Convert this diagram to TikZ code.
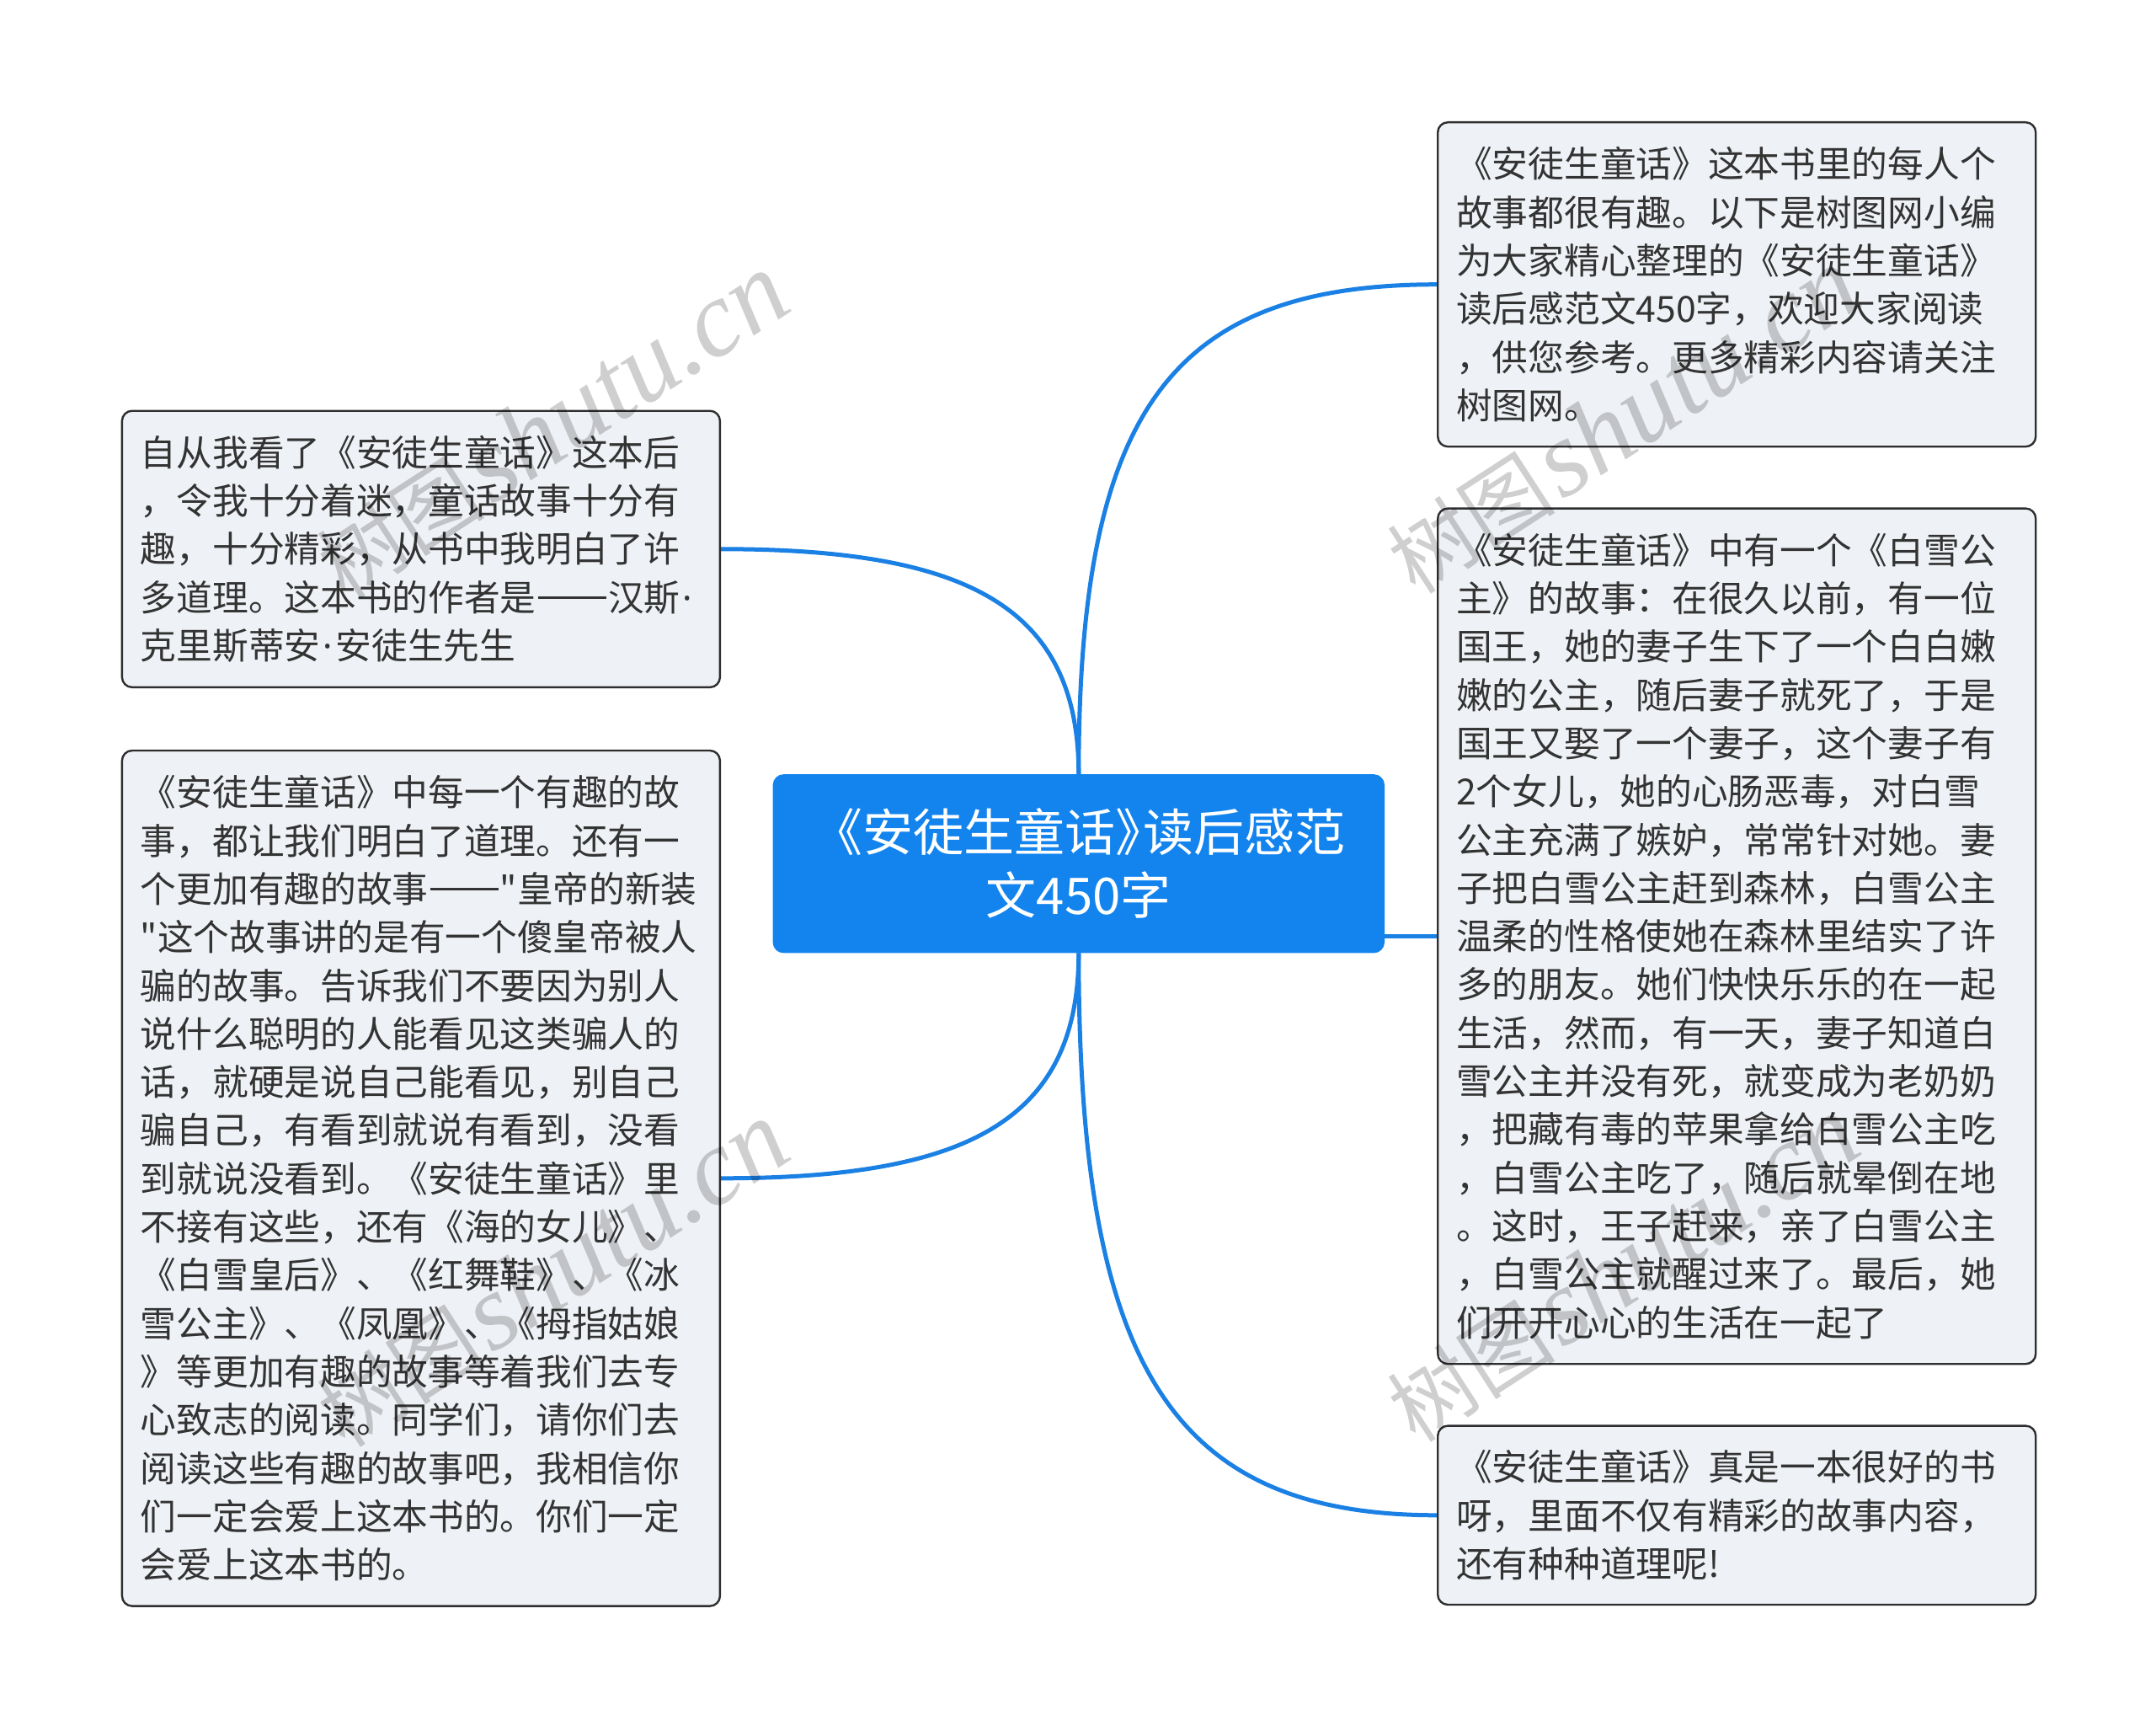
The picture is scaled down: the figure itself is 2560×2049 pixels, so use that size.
\documentclass[tikz,border=0pt]{standalone}
\usepackage{fontspec}
\usetikzlibrary{backgrounds}
\newfontfamily\cjk{Noto Sans CJK SC}
\newfontfamily\wmlat{Liberation Serif}
\newfontfamily\latdot{Noto Sans}
\newcommand{\mdot}{{\latdot\kern0.08em·\kern0.08em}}
\newcommand{\ddash}{\kern0.05em\rule[0.34em]{1.9em}{0.06em}\kern0.05em}
\definecolor{cblue}{HTML}{1384EE}
\definecolor{lblue}{HTML}{1A80E4}
\definecolor{boxfill}{HTML}{EEF1F5}
\definecolor{boxdraw}{HTML}{2E2E2E}
\definecolor{txt}{HTML}{333333}
\tikzset{
  leaf/.style={draw=boxdraw, fill=boxfill, line width=1.2pt, rounded corners=6pt,
    anchor=north west, align=left, text width=333pt, inner xsep=11pt, inner ysep=0pt,
    minimum width=355pt, text=txt,
    font=\cjk\fontsize{21.35pt}{28.65pt}\selectfont},
  root/.style={fill=cblue, draw=cblue, line width=0.8pt, rounded corners=6pt,
    anchor=north west, align=center, text width=340pt, inner sep=0pt,
    minimum width=362.4pt, minimum height=105.3pt, text=white,
    font=\cjk\fontsize{30pt}{37.5pt}\selectfont},
  conn/.style={draw=lblue, line width=2.5pt},
  wmark/.style={rotate=33, text=black, opacity=0.19, inner sep=0pt}
}
\begin{document}
\begin{tikzpicture}[x=0.5pt, y=-0.5pt]
\useasboundingbox (0,0) rectangle (2560,2049);

\node[root] (c) at (917.6,919.2) {\mbox{《安徒生童话》\kern-0.45em读后感范}\\文450字};

\node[leaf, minimum height=192.5pt] (tr) at (1706,144) {%
《安徒生童话》这本书里的每人个\\
故事都很有趣。以下是树图网小编\\
为大家精心整理的《安徒生童话》\\
读后感范文450字，欢迎大家阅读\\
，供您参考。更多精彩内容请关注\\
树图网。};

\node[leaf, minimum height=507.8pt] (rm) at (1706,602.4) {%
《安徒生童话》中有一个《白雪公\\
主》的故事：在很久以前，有一位\\
国王，她的妻子生下了一个白白嫩\\
嫩的公主，随后妻子就死了，于是\\
国王又娶了一个妻子，这个妻子有\\
2个女儿，她的心肠恶毒，对白雪\\
公主充满了嫉妒，常常针对她。妻\\
子把白雪公主赶到森林，白雪公主\\
温柔的性格使她在森林里结实了许\\
多的朋友。她们快快乐乐的在一起\\
生活，然而，有一天，妻子知道白\\
雪公主并没有死，就变成为老奶奶\\
，把藏有毒的苹果拿给白雪公主吃\\
，白雪公主吃了，随后就晕倒在地\\
。这时，王子赶来，亲了白雪公主\\
，白雪公主就醒过来了。最后，她\\
们开开心心的生活在一起了};

\node[leaf, minimum height=106.2pt] (rb) at (1706,1691.4) {%
《安徒生童话》真是一本很好的书\\
呀，里面不仅有精彩的故事内容，\\
还有种种道理呢!};

\node[leaf, minimum height=164.1pt] (lt) at (143.7,486.5) {%
自从我看了《安徒生童话》这本后\\
，令我十分着迷，童话故事十分有\\
趣，十分精彩，从书中我明白了许\\
\mbox{多道理。这本书的作者是\ddash 汉斯\mdot}\\
克里斯蒂安\mdot 安徒生先生};

\node[leaf, minimum height=507.8pt] (lb) at (143.7,889.8) {%
《安徒生童话》中每一个有趣的故\\
事，都让我们明白了道理。还有一\\
\mbox{个更加有趣的故事\ddash"皇帝的新装}\\
\mbox{"这个故事讲的是有一个傻皇帝被人}\\
骗的故事。告诉我们不要因为别人\\
说什么聪明的人能看见这类骗人的\\
话，就硬是说自己能看见，别自己\\
骗自己，有看到就说有看到，没看\\
到就说没看到。《安徒生童话》里\\
不接有这些，还有《海的女儿》、\\
《白雪皇后》、《红舞鞋》、《冰\\
雪公主》、《凤凰》、《拇指姑娘\\
》等更加有趣的故事等着我们去专\\
心致志的阅读。同学们，请你们去\\
阅读这些有趣的故事吧，我相信你\\
们一定会爱上这本书的。你们一定\\
会爱上这本书的。};

\begin{scope}[on background layer]
\draw[conn] (c.north) .. controls +(0,-429) and +(-318,0) .. (tr.west);
\draw[conn] (c.north) .. controls +(0,-201) and +(289,0) .. (lt.east);
\draw[conn] (c.south) .. controls +(0,201) and +(289,0) .. (lb.east);
\draw[conn] (c.south) .. controls +(0,486) and +(-318,0) .. (rb.west);
\draw[conn] (c.east |- rm.west) -- (rm.west);
\end{scope}

\node[wmark] (w1) at (656,506) {{\cjk\fontsize{50pt}{50pt}\selectfont 树图} {\wmlat\itshape\fontsize{64pt}{64pt}\selectfont shutu.cn}};
\node[wmark] (w2) at (1927,500) {{\cjk\fontsize{50pt}{50pt}\selectfont 树图} {\wmlat\itshape\fontsize{64pt}{64pt}\selectfont shutu.cn}};
\node[wmark] (w3) at (656,1513) {{\cjk\fontsize{50pt}{50pt}\selectfont 树图} {\wmlat\itshape\fontsize{64pt}{64pt}\selectfont shutu.cn}};
\node[wmark] (w4) at (1927,1507) {{\cjk\fontsize{50pt}{50pt}\selectfont 树图} {\wmlat\itshape\fontsize{64pt}{64pt}\selectfont shutu.cn}};
\end{tikzpicture}
\end{document}
